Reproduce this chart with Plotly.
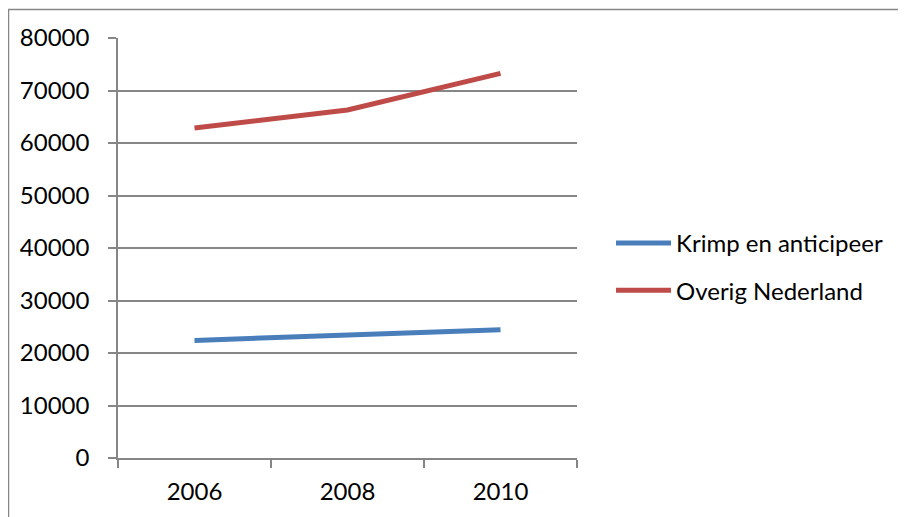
import plotly.graph_objects as go

years = ["2006", "2008", "2010"]
krimp = [22400, 23400, 24450]
overig = [62870, 66300, 73250]
series_names = ["Krimp en anticipeer", "Overig Nederland"]
colors = ["#4A7EBB", "#BE4B48"]

OFF = 8  # page body margin offset
W, H = 906, 517
L = 118 - OFF
T = 38 - OFF
R = W - (577 - OFF)
B = H - (458 - OFF)
pw, ph = W - L - R, H - T - B

def px_x(x):
    return (x - OFF - L) / pw

def px_y(y):
    return ((458 - OFF) - (y - OFF)) / ph

fig = go.Figure()
for name, vals, col in zip(series_names, [krimp, overig], colors):
    fig.add_trace(go.Scatter(
        x=years, y=vals, mode="lines", name=name, legendgroup=name,
        line=dict(color=col, width=5),
    ))

font = dict(family="Lato, Carlito, Calibri, sans-serif", size=24, color="#000000")
fig.update_layout(
    width=W, height=H,
    margin=dict(l=L, r=R, t=T, b=B, pad=0),
    paper_bgcolor="white", plot_bgcolor="white",
    font=font,
    showlegend=True,
    legend=dict(
        x=px_x(611), y=px_y(267), xanchor="left", yanchor="middle",
        traceorder="grouped", tracegroupgap=13, itemwidth=55,
        font=font, bgcolor="rgba(0,0,0,0)",
    ),
    xaxis=dict(
        type="category", range=[-0.5, 2.5], showgrid=False, showline=True,
        linecolor="#868686", linewidth=1.5,
        ticks="outside", ticklen=8, tickcolor="#868686", tickwidth=1.5,
        tickson="boundaries", ticklabelstandoff=11, fixedrange=True,
    ),
    yaxis=dict(
        range=[0, 80000], dtick=10000, showgrid=True, gridcolor="#868686", gridwidth=1.5,
        showline=True, linecolor="#868686", linewidth=1.5, zeroline=False,
        ticks="outside", ticklen=8, tickcolor="#868686", tickwidth=1.5,
        ticklabelstandoff=14, tickformat="d",
    ),
    shapes=[dict(
        type="rect", xref="paper", yref="paper",
        x0=px_x(8.5), x1=px_x(925),
        y0=px_y(540), y1=px_y(9.5),
        line=dict(color="#868686", width=1.5), fillcolor="rgba(0,0,0,0)", layer="below",
    )],
)

fig.write_html("out.html")
